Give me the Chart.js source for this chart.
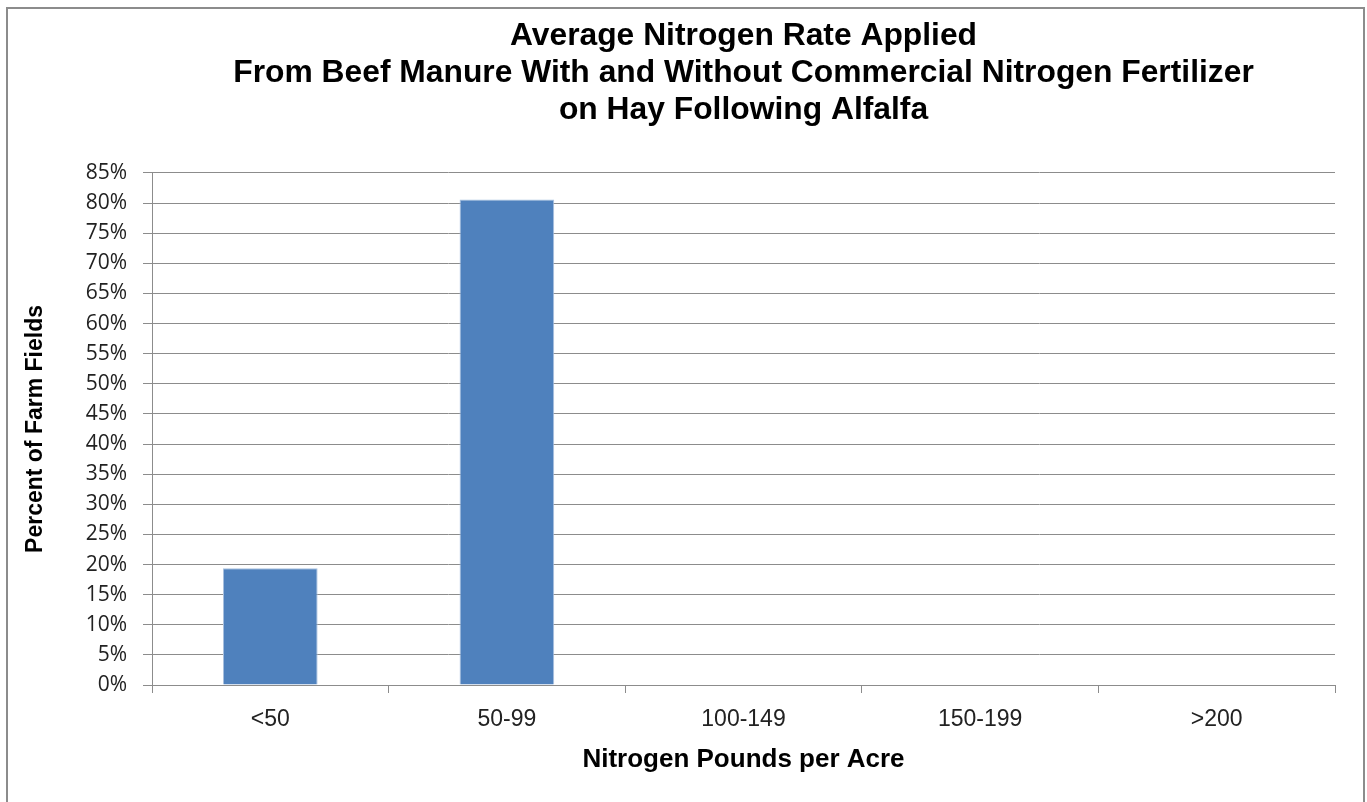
<!DOCTYPE html>
<html>
<head>
<meta charset="utf-8">
<script src="https://cdn.jsdelivr.net/npm/chart.js@4"></script>
<style>
  html, body { margin: 0; padding: 0; background: #fff; overflow: hidden; }
  #frame { position: absolute; left: 6px; top: 7px; width: 1355px; height: 830px; border: 2px solid #8c8c8c; }
  #wrap { position: absolute; left: 0; top: 0; width: 1367px; height: 802px; }
</style>
</head>
<body>
<div id="frame"></div>
<div id="wrap"><canvas id="nChart"></canvas></div>
<script>
// Nitrogen rate chart

var categories = ['<50', '50-99', '100-149', '150-199', '>200'];
var percentFields = [19.4, 80.6, 0, 0, 0];
var yTicks = [0, 5, 10, 15, 20, 25, 30, 35, 40, 45, 50, 55, 60, 65, 70, 75, 80, 85];

var ctxN = document.getElementById('nChart').getContext('2d');
var nChart = new Chart(ctxN, {
    type: 'bar',
    data: {
        labels: categories,
        datasets: [
            {
                label: 'Percent of Farm Fields',
                data: percentFields,
                backgroundColor: '#4f81bd',
                borderColor: '#a9c1df',
                borderWidth: 1,
                barPercentage: 0.4,
                categoryPercentage: 1.0
            }
        ]
    },
    options: {
        responsive: true,
        maintainAspectRatio: false,
        animation: false,
        layout: {
            padding: { left: 0, right: 32, top: 18, bottom: 27 }
        },
        scales: {
            x: {
                afterFit: function (axis) {
                    axis.height = 90;
                },
                grid: {
                    offset: true,
                    drawOnChartArea: false,
                    drawTicks: true,
                    tickLength: 8,
                    color: '#8c8c8c'
                },
                border: { color: '#8c8c8c' },
                ticks: {
                    color: '#222',
                    font: { family: 'Liberation Sans', size: 23 },
                    padding: 13
                },
                title: {
                    display: true,
                    text: 'Nitrogen Pounds per Acre',
                    color: '#000',
                    font: { family: 'Liberation Sans', size: 26, weight: 'bold' },
                    padding: { top: 9, bottom: 0 }
                }
            },
            y: {
                min: 0,
                max: 85,
                afterBuildTicks: function (axis) {
                    axis.ticks = yTicks.map(function (v) { return { value: v }; });
                },
                afterFit: function (axis) {
                    axis.width = 152;
                },
                grid: {
                    color: '#8c8c8c',
                    tickLength: 9
                },
                border: { color: '#8c8c8c' },
                ticks: {
                    color: '#222',
                    font: { family: 'Open Sans', size: 21 },
                    padding: 16,
                    callback: function (v) { return v + '%'; }
                },
                title: {
                    display: true,
                    text: 'Percent of Farm Fields',
                    color: '#000',
                    font: { family: 'Liberation Sans', size: 23, weight: 'bold' },
                    padding: { top: 22, bottom: 0 }
                }
            }
        },
        plugins: {
            legend: { display: false },
            tooltip: { enabled: false },
            title: {
                display: true,
                fullSize: false,
                text: ['Average Nitrogen Rate Applied',
                       'From Beef Manure With and Without Commercial Nitrogen Fertilizer',
                       'on Hay Following Alfalfa'],
                color: '#000',
                font: { family: 'Liberation Sans', size: 31.8, weight: 'bold', lineHeight: 1.163 },
                padding: { top: 0, bottom: 44 }
            }
        }
    }
});
</script>
</body>
</html>
